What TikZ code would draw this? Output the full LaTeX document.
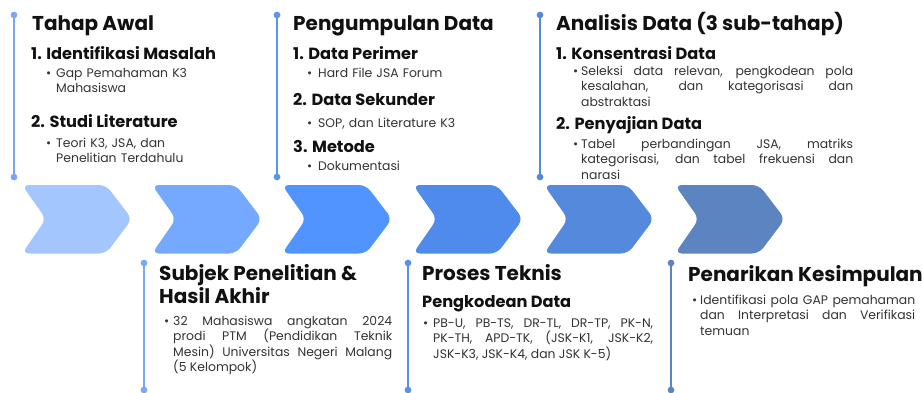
\documentclass[tikz,border=0pt]{standalone}
\usepackage{fontspec}
\setmainfont{Poppins}
\definecolor{cA}{HTML}{A4C6FF}
\definecolor{cB}{HTML}{74A9FF}
\definecolor{cC}{HTML}{5194FF}
\definecolor{cD}{HTML}{4F8BEA}
\definecolor{cE}{HTML}{5589DC}
\definecolor{cF}{HTML}{5B84C0}
\definecolor{lA}{HTML}{78A6F6}
\definecolor{lB}{HTML}{78A8FA}
\definecolor{lC}{HTML}{5A93F3}
\definecolor{lD}{HTML}{5590EE}
\definecolor{lE}{HTML}{5689DC}
\definecolor{lF}{HTML}{5B84C0}
\definecolor{txt}{HTML}{333333}
\definecolor{ink}{HTML}{111111}
\tikzset{
  ttl/.style={anchor=base west, inner sep=0pt, font=\fontsize{20}{23}\selectfont\bfseries, text=ink},
  sub/.style={anchor=base west, inner sep=0pt, font=\fontsize{16.2}{19}\selectfont\bfseries, text=ink},
  bul/.style={anchor=base west, inner sep=0pt, font=\fontsize{12.4}{15.5}\selectfont, text=txt},
  bodyl/.style={anchor=base west, inner sep=0pt, font=\fontsize{12.4}{15.5}\selectfont, text=txt, text width=#1, align=left},
  bodyj/.style={anchor=base west, inner sep=0pt, font=\fontsize{12.4}{15.5}\selectfont, text=txt, text width=#1, align=justify},
  chev/.style={rounded corners=7pt},
  tline/.style={line width=1.3pt},
  dot/.style={line width=1.2pt, fill=white},
}
\newcommand{\mychevron}[2]{%
  \fill[chev,#2] (#1,185) -- (#1+84,185) -- (#1+110,219) -- (#1+84,253.5) -- (#1,253.5) -- (#1+24,219) -- cycle;}
\newcommand{\mymarker}[4]{%
  \draw[tline,#4] (#1,#2) -- (#1,#3);
  \draw[dot,#4] (#1,#2) circle (2.7);
  \draw[dot,#4] (#1,#3) circle (2.7);}
\begin{document}
\begin{tikzpicture}[x=1pt,y=-1pt]
\useasboundingbox[fill=white] (0,0) rectangle (923,392);
% chevrons
\mychevron{22}{cA}
\mychevron{152}{cB}
\mychevron{282}{cC}
\mychevron{413}{cD}
\mychevron{544}{cE}
\mychevron{675}{cF}
% timeline markers
\mymarker{14}{15}{177}{lA}
\mymarker{277}{15}{177}{lC}
\mymarker{540}{15}{177}{lE}
\mymarker{144}{263}{390}{lB}
\mymarker{408}{263}{390}{lD}
\mymarker{671}{263}{390}{lF}
% group 1
\node[ttl] (t1) at (32,30.5) {Tahap Awal};
\node[sub] (s11) at (31,59) {1. Identifikasi Masalah};
\node[bul] (b11) at (46,77) {•};
\node[bodyl=150] (x11) at (56,77) {Gap Pemahaman K3\\Mahasiswa};
\node[sub] (s12) at (31,127) {2. Studi Literature};
\node[bul] (b12) at (46,147) {•};
\node[bodyl=150] (x12) at (56,147) {Teori K3, JSA, dan\\Penelitian Terdahulu};
% group 2
\node[ttl] (t2) at (293,30.5) {Pengumpulan Data};
\node[sub] (s21) at (293,59) {1. Data Perimer};
\node[bul] (b21) at (307,77) {•};
\node[bodyl=200] (x21) at (318,77) {Hard File JSA Forum};
\node[sub] (s22) at (293,105) {2. Data Sekunder};
\node[bul] (b22) at (307,127) {•};
\node[bodyl=200] (x22) at (318,127) {SOP, dan Literature K3};
\node[sub] (s23) at (293,152) {3. Metode};
\node[bul] (b23) at (307,170) {•};
\node[bodyl=200] (x23) at (318,170) {Dokumentasi};
% group 3
\node[ttl] (t3) at (556,30.5) {Analisis Data (3 sub-tahap)};
\node[sub] (s31) at (556,59) {1. Konsentrasi Data};
\node[bul] (b31) at (573,75) {•};
\node[bodyj=272] (x31) at (581,75) {Seleksi data relevan, pengkodean pola\linebreak kesalahan, dan kategorisasi dan\linebreak abstraktasi};
\node[sub] (s32) at (556,129) {2. Penyajian Data};
\node[bul] (b32) at (573,148) {•};
\node[bodyj=272] (x32) at (581,148) {Tabel perbandingan JSA, matriks\linebreak kategorisasi, dan tabel frekuensi dan\linebreak narasi};
% group 4
\node[ttl] (t4) at (159,280) {Subjek Penelitian \&};
\node[ttl] (t4b) at (159,303) {Hasil Akhir};
\node[bul] (b41) at (164,325) {•};
\node[bodyj=219] (x41) at (173,325) {32 Mahasiswa angkatan 2024\linebreak prodi PTM (Pendidikan Teknik\linebreak Mesin) Universitas Negeri Malang\linebreak (5 Kelompok)};
% group 5
\node[ttl] (t5) at (422,280) {Proses Teknis};
\node[sub] (s51) at (422,307) {Pengkodean Data};
\node[bul] (b51) at (423,327) {•};
\node[bodyj=220] (x51) at (433,327) {PB-U, PB-TS, DR-TL, DR-TP, PK-N,\linebreak PK-TH, APD-TK, (JSK-K1, JSK-K2,\linebreak JSK-K3, JSK-K4, dan JSK K-5)};
% group 6
\node[ttl] (t6) at (688,281) {Penarikan Kesimpulan};
\node[bul] (b61) at (692,304) {•};
\node[bodyj=215] (x61) at (700,304) {Identifikasi pola GAP pemahaman\linebreak dan Interpretasi dan Verifikasi\linebreak temuan};
\end{tikzpicture}
\end{document}
